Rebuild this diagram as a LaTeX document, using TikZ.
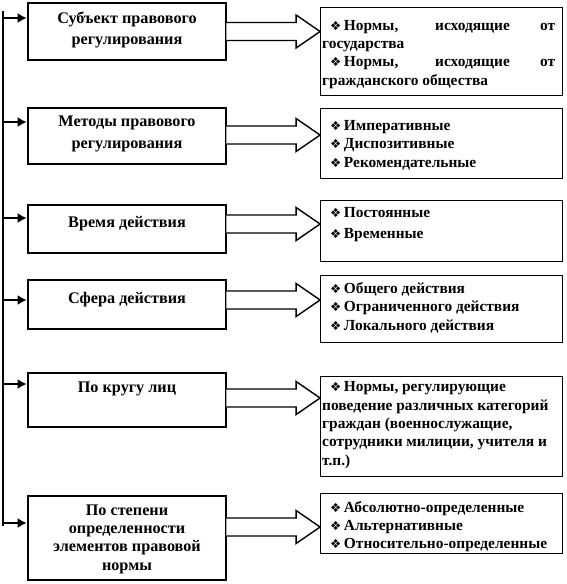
\documentclass[tikz,border=0pt]{standalone}
\usepackage{fontspec}
\setmainfont{Liberation Serif}
\newfontfamily\dvfont{DejaVu Sans}
\usetikzlibrary{arrows.meta,calc}
\newcommand{\bul}{{\dvfont\fontsize{12.5}{12.5}\selectfont ❖}\,}
\newcommand{\blockarr}[3]{%
  \coordinate (ba) at (0,#3);
  \coordinate (bs) at (ba -| #1.east);
  \coordinate (bt) at (ba -| #2.west);
  \draw[barrow] ($(bs)+(-1,-9)$) -- ($(bt)+(-24,-9)$) -- ($(bt)+(-24,-16.5)$) -- (bt)
     -- ($(bt)+(-24,16.5)$) -- ($(bt)+(-24,9)$) -- ($(bs)+(-1,9)$);}
\begin{document}
\begin{tikzpicture}[x=1pt,y=-1pt,
  lbox/.style={draw, line width=2.6pt, minimum width=198pt, inner sep=0pt},
  rbox/.style={draw, line width=0.8pt, minimum width=242pt, inner sep=0pt},
  ltext/.style={font=\bfseries\fontsize{16.2}{21.5}\selectfont, align=center, anchor=base, inner sep=0pt},
  rtext/.style={font=\bfseries\fontsize{15.4}{18.3}\selectfont, align=left, anchor=base west, inner sep=0pt},
  feed/.style={line width=2.6pt, -{Latex[length=9pt,width=10pt]}},
  barrow/.style={draw, line width=1.4pt, fill=white, line join=miter}]
\useasboundingbox (0,0) rectangle (567,584);
% left boxes
\node[lbox, minimum height=57pt] (L1) at (127,31.5) {};
\node[lbox, minimum height=56pt] (L2) at (127,136) {};
\node[lbox, minimum height=48pt] (L3) at (127,229) {};
\node[lbox, minimum height=49pt] (L4) at (127,304.5) {};
\node[lbox, minimum height=54pt] (L5) at (127,400) {};
\node[lbox, minimum height=84pt] (L6) at (127,538) {};
% left texts (anchored at the baseline of their last line)
\node[ltext] (T1) at (127,44.5) {Субъект правового\\регулирования};
\node[ltext] (T2) at (127,148) {Методы правового\\регулирования};
\node[ltext] (T3) at (127,227) {Время действия};
\node[ltext] (T4) at (127,303) {Сфера действия};
\node[ltext] (T5) at (127,392) {По кругу лиц};
\node[ltext, font=\bfseries\fontsize{16.2}{18.3}\selectfont] (T6) at (127,570) {По степени\\определенности\\элементов правовой\\нормы};
% right boxes
\node[rbox, minimum height=88pt] (R1) at (441.5,51) {};
\node[rbox, minimum height=70pt] (R2) at (441.5,143) {};
\node[rbox, minimum height=61pt] (R3) at (441.5,230.5) {};
\node[rbox, minimum height=67pt] (R4) at (441.5,308.5) {};
\node[rbox, minimum height=100pt] (R5) at (441.5,426) {};
\node[rbox, minimum height=60pt] (R6) at (441.5,523) {};
% right texts (anchored at the baseline of their last line)
\node[rtext] (U1) at (322,85) {\makebox[233pt][s]{\hspace*{8pt}\bul Нормы, исходящие от}\\государства\\\makebox[233pt][s]{\hspace*{8pt}\bul Нормы, исходящие от}\\гражданского общества};
\node[rtext, font=\bfseries\fontsize{15.4}{18.7}\selectfont] (U2) at (330,167.5) {\bul Императивные\\\bul Диспозитивные\\\bul Рекомендательные};
\node[rtext, font=\bfseries\fontsize{15.4}{21.5}\selectfont] (U3) at (330,238.5) {\bul Постоянные\\\bul Временные};
\node[rtext, font=\bfseries\fontsize{15.4}{18.5}\selectfont] (U4) at (330,330) {\bul Общего действия\\\bul Ограниченного действия\\\bul Локального действия};
\node[rtext] (U5) at (322,465) {\hspace*{8pt}\bul Нормы, регулирующие\\поведение различных категорий\\граждан (военнослужащие,\\сотрудники милиции, учителя и\\т.п.)};
\node[rtext, font=\bfseries\fontsize{15.4}{18}\selectfont] (U6) at (330,548) {\bul Абсолютно-определенные\\\bul Альтернативные\\\bul Относительно-определенные};
% vertical feed line and arrows
\draw[line width=2.6pt] (3,11) coordinate (vtop) -- (3,526) coordinate (vbot);
\coordinate (v1) at (3,18);
\coordinate (v2) at (3,122);
\coordinate (v3) at (3,218);
\coordinate (v4) at (3,300);
\coordinate (v5) at (3,384);
\coordinate (v6) at (3,523);
\foreach \i in {1,...,6} {\draw[feed] (v\i) -- (v\i -| L\i.west);}
% block arrows
\blockarr{L1}{R1}{31.5}
\blockarr{L2}{R2}{135}
\blockarr{L3}{R3}{224}
\blockarr{L4}{R4}{300}
\blockarr{L5}{R5}{398}
\blockarr{L6}{R6}{527}
\end{tikzpicture}
\end{document}
